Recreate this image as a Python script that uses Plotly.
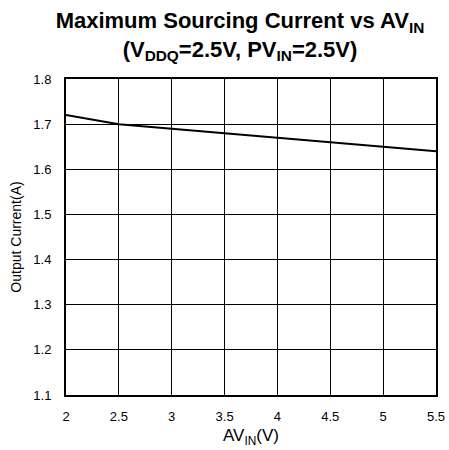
import plotly.graph_objects as go

av_in = [2, 2.5, 3, 3.5, 4, 4.5, 5, 5.5]
current = [1.72, 1.70, 1.69, 1.68, 1.67, 1.66, 1.65, 1.64]
x_ticks = [2, 2.5, 3, 3.5, 4, 4.5, 5, 5.5]
y_ticks = [1.1, 1.2, 1.3, 1.4, 1.5, 1.6, 1.7, 1.8]

fig = go.Figure()
fig.add_trace(go.Scatter(x=av_in, y=current, mode="lines",
                         line=dict(color="black", width=2), showlegend=False))

font = "Liberation Sans, Arial, sans-serif"
fig.update_layout(
    width=449, height=450,
    margin=dict(l=66, r=13, t=79, b=55, autoexpand=False),
    paper_bgcolor="white", plot_bgcolor="white",
    font=dict(family=font, color="black", size=13),
    title=dict(
        text="<b>Maximum Sourcing Current vs AV<sub>IN</sub><br>(V<sub>DDQ</sub>=2.5V, PV<sub>IN</sub>=2.5V)</b>",
        x=240 / 449, xanchor="center", y=1 - 28 / 450, yanchor="middle", yref="container",
        font=dict(size=22, family=font, color="black"),
    ),
    xaxis=dict(range=[2, 5.5], tickvals=x_ticks, ticktext=[str(v) for v in x_ticks],
               showgrid=True, gridcolor="black", gridwidth=1,
               showline=True, linecolor="black", linewidth=2, mirror=True,
               zeroline=False, ticks="", ticklen=0, ticklabelstandoff=8,
               automargin=False,
               title=dict(text="AV<sub>IN</sub>(V)", font=dict(size=17), standoff=7),
               tickfont=dict(size=13)),
    yaxis=dict(range=[1.1, 1.8], tickvals=y_ticks, ticktext=[f"{v:.1f}" for v in y_ticks],
               showgrid=True, gridcolor="black", gridwidth=1,
               showline=True, linecolor="black", linewidth=2, mirror=True,
               zeroline=False, ticks="", ticklen=0, ticklabelstandoff=10,
               automargin=False,
               title=dict(text="Output Current(A)", font=dict(size=14), standoff=8),
               tickfont=dict(size=13)),
)
fig.write_html("out.html", config={"displayModeBar": False},
               post_script="document.body.style.margin='0';document.body.style.overflow='hidden';")
